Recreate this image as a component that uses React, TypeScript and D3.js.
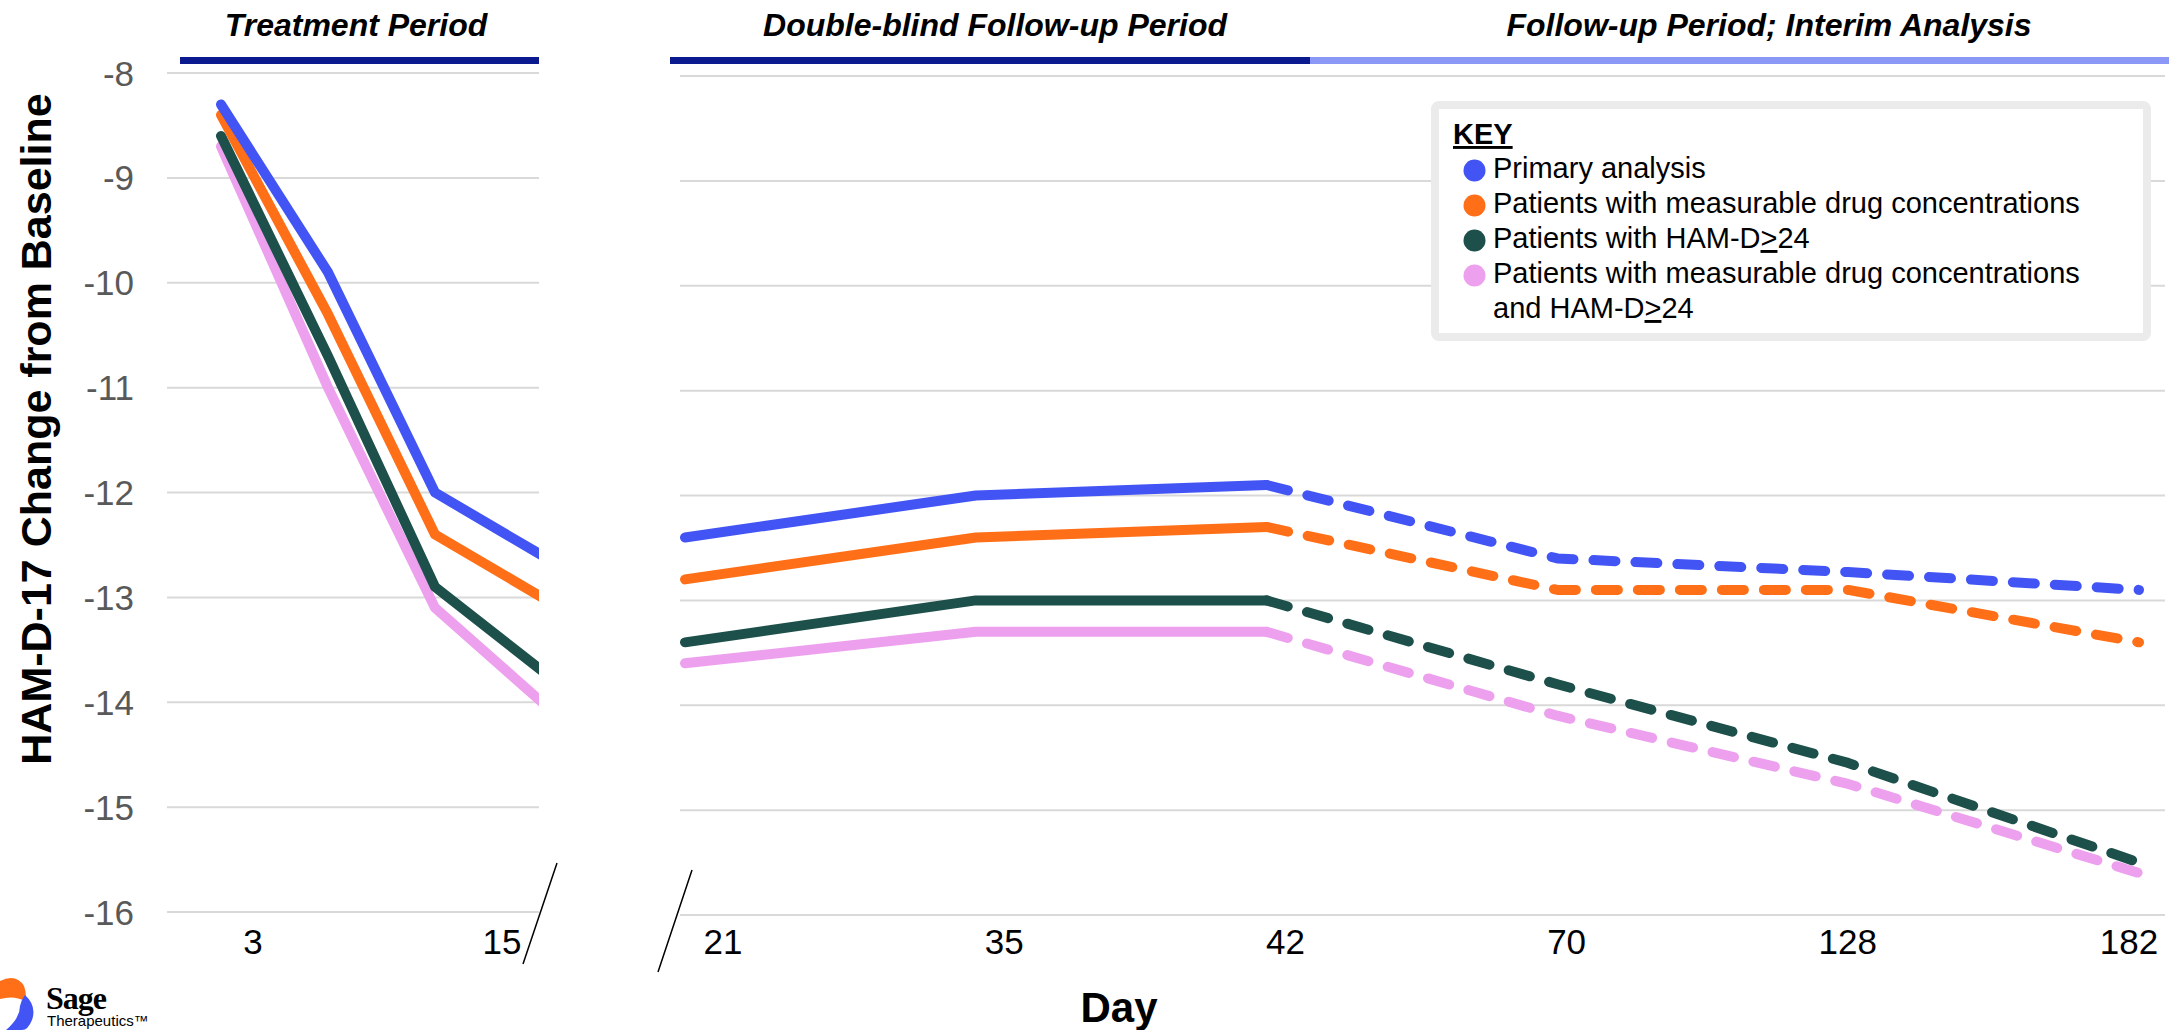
import React from "react";
import * as d3 from "d3";

const W = 2174;
const H = 1030;

// y axis ticks (HAM-D-17 change from baseline)
const yTicks = [-8, -9, -10, -11, -12, -13, -14, -15, -16];

// treatment period: 4 visits, the last one sits on the axis break
const leftSteps = [0, 1, 2, 3];
const leftTickLabels = ["3", "15"];

// follow-up period days
const rightDays = ["21", "35", "42", "70", "128", "182"];

const seriesNames = [
  "Primary analysis",
  "Patients with measurable drug concentrations",
  "Patients with HAM-D>24",
  "Patients with measurable drug concentrations and HAM-D>24",
];
const seriesColors = ["#4255f4", "#ff6f17", "#1d504a", "#eda0ee"];

// treatment period values
const primaryLeft = [-8.3, -9.9, -12.0, -12.6];
const measurableLeft = [-8.4, -10.3, -12.4, -13.0];
const hamdLeft = [-8.6, -10.7, -12.9, -13.7];
const measurableHamdLeft = [-8.7, -11.0, -13.1, -14.0];

// follow-up values (21..182); solid to day 42, dashed after
const primaryRight = [-12.4, -12.0, -11.9, -12.6, -12.73, -12.9];
const measurableRight = [-12.8, -12.4, -12.3, -12.9, -12.9, -13.4];
const hamdRight = [-13.4, -13.0, -13.0, -13.8, -14.55, -15.5];
const measurableHamdRight = [-13.6, -13.3, -13.3, -14.1, -14.75, -15.6];

const leftSeries = [primaryLeft, measurableLeft, hamdLeft, measurableHamdLeft];
const rightSeries = [primaryRight, measurableRight, hamdRight, measurableHamdRight];

const periods = ["Treatment Period", "Double-blind Follow-up Period", "Follow-up Period; Interim Analysis"];

const FONT = "'Liberation Sans', Arial, sans-serif";

export default function App() {
  // scales
  const xLeft = d3.scaleLinear().domain([0, 3]).range([221, 542]);
  const yLeft = d3.scaleLinear().domain([-16, -8]).range([912, 73]);
  const xLeftLabel = d3.scalePoint().domain(leftTickLabels).range([253, 502]);

  const xRight = d3.scalePoint().domain(rightDays).range([685, 2139]);
  const xRightLabel = d3.scalePoint().domain(rightDays).range([723, 2129]);
  const yRight = d3.scaleLinear().domain([-16, -8]).range([915, 76]);

  const leftLine = d3
    .line<number>()
    .x((_, i) => xLeft(leftSteps[i]))
    .y((d) => yLeft(d));

  const rightLine = d3
    .line<[string, number]>()
    .x((d) => xRight(d[0]) as number)
    .y((d) => yRight(d[1]));

  const drawOrder = [3, 2, 1, 0];

  const legendRows = [
    { s: 0, lines: [["Primary analysis"]] },
    { s: 1, lines: [["Patients with measurable drug concentrations"]] },
    { s: 2, lines: [["Patients with HAM-D", ">", "24"]] },
    { s: 3, lines: [["Patients with measurable drug concentrations"], ["and HAM-D", ">", "24"]] },
  ];

  let row = 0;

  return (
    <div style={{ position: "absolute", left: 0, top: 0 }}>
      <svg width={W} height={H} style={{ display: "block", background: "#fff" }} fontFamily={FONT}>
        <defs>
          <clipPath id="leftClip">
            <rect x={150} y={0} width={389} height={H} />
          </clipPath>
        </defs>

        {/* period titles */}
        {periods.map((p, i) => (
          <text
            key={p}
            x={[356, 995, 1769][i]}
            y={36}
            textAnchor="middle"
            fontSize={32}
            fontWeight="bold"
            fontStyle="italic"
          >
            {p}
          </text>
        ))}
        <rect x={180} y={57} width={359} height={7} fill="#0c1a8f" />
        <rect x={670} y={57} width={640} height={7} fill="#0c1a8f" />
        <rect x={1310} y={57} width={859} height={7} fill="#8c98f5" />

        {/* gridlines */}
        {yTicks.map((t) => (
          <g key={t}>
            <line x1={167} x2={539} y1={yLeft(t)} y2={yLeft(t)} stroke="#d9d9d9" strokeWidth={2} />
            <line x1={680} x2={2165} y1={yRight(t)} y2={yRight(t)} stroke="#d9d9d9" strokeWidth={2} />
            <text x={134} y={yLeft(t)} textAnchor="end" dominantBaseline="central" fontSize={35} fill="#595959">
              {t}
            </text>
          </g>
        ))}

        {/* treatment period lines */}
        <g clipPath="url(#leftClip)">
          {drawOrder.map((s) => (
            <path
              key={s}
              d={leftLine(leftSeries[s]) || ""}
              fill="none"
              stroke={seriesColors[s]}
              strokeWidth={10}
              strokeLinecap="round"
              strokeLinejoin="round"
            />
          ))}
        </g>

        {/* follow-up lines */}
        {drawOrder.map((s) => {
          const pts = rightDays.map((d, i) => [d, rightSeries[s][i]] as [string, number]);
          return (
            <g key={s}>
              <path
                d={rightLine(pts.slice(0, 3)) || ""}
                fill="none"
                stroke={seriesColors[s]}
                strokeWidth={10}
                strokeLinecap="round"
                strokeLinejoin="round"
              />
              <path
                d={rightLine(pts.slice(2)) || ""}
                fill="none"
                stroke={seriesColors[s]}
                strokeWidth={10}
                strokeLinecap="round"
                strokeLinejoin="round"
                strokeDasharray="22 20"
              />
            </g>
          );
        })}

        {/* x tick labels */}
        {leftTickLabels.map((l) => (
          <text key={l} x={xLeftLabel(l)} y={954} textAnchor="middle" fontSize={35}>
            {l}
          </text>
        ))}
        {rightDays.map((l) => (
          <text key={l} x={xRightLabel(l)} y={954} textAnchor="middle" fontSize={35}>
            {l}
          </text>
        ))}

        {/* axis break marks */}
        <line x1={557} y1={863} x2={523} y2={964} stroke="#000" strokeWidth={1.5} />
        <line x1={692} y1={870} x2={658} y2={972} stroke="#000" strokeWidth={1.5} />

        {/* axis titles */}
        <text
          transform="translate(51,429) rotate(-90)"
          textAnchor="middle"
          fontSize={43}
          fontWeight="bold"
        >
          HAM-D-17 Change from Baseline
        </text>
        <text x={1119} y={1022} textAnchor="middle" fontSize={42} fontWeight="bold">
          Day
        </text>

        {/* legend */}
        <rect x={1435} y={105} width={712} height={232} rx={4} fill="#fff" stroke="#ebebeb" strokeWidth={8} />
        <text x={1453} y={144} fontSize={29} fontWeight="bold" textDecoration="underline">
          KEY
        </text>
        {legendRows.map((r) => (
          <g key={r.s}>
            <circle cx={1474.5} cy={178 + row * 35 - 7.5} r={11} fill={seriesColors[r.s]} />
            {r.lines.map((parts, j) => {
              const y = 178 + row++ * 35;
              return (
                <text key={j} x={1493} y={y} fontSize={29}>
                  {parts.map((p, k) =>
                    p === ">" ? (
                      <tspan key={k} textDecoration="underline">
                        {p}
                      </tspan>
                    ) : (
                      <tspan key={k}>{p}</tspan>
                    )
                  )}
                </text>
              );
            })}
          </g>
        ))}

        {/* logo */}
        <path d="M0 981 Q16 973 24 986 Q27 994 25 1001 Q14 995 0 999 Z" fill="#ff6f17" />
        <path d="M25 995 Q37 1006 32 1020 Q28 1030 22 1030 L6 1030 Q20 1018 20 1006 Q21 1000 25 995 Z" fill="#4255f4" />
        <text x={46} y={1009} fontSize={32} fontWeight="bold" fontFamily="'Liberation Serif', 'DejaVu Serif', serif" letterSpacing={-1}>
          Sage
        </text>
        <text x={47} y={1026} fontSize={15} fontFamily={FONT}>
          Therapeutics™
        </text>
      </svg>
    </div>
  );
}
